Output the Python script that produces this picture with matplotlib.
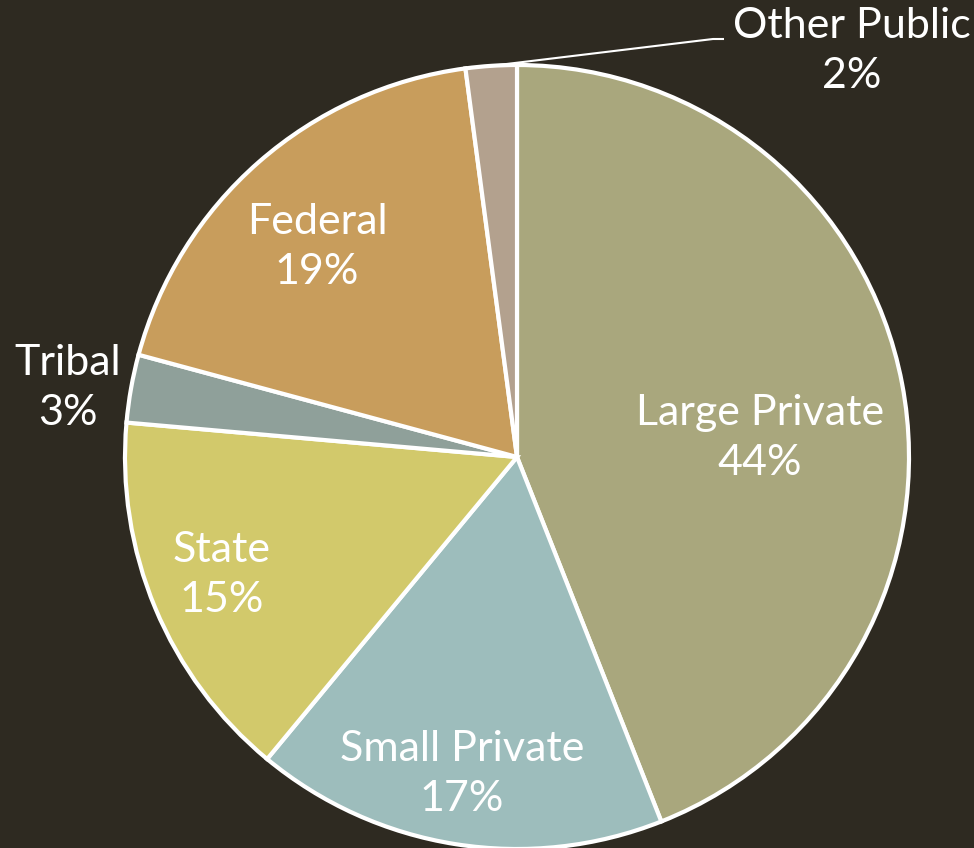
import matplotlib
matplotlib.use("Agg")
import matplotlib.pyplot as plt
import numpy as np

categories = ["Large Private", "Small Private", "State", "Tribal", "Federal", "Other Public"]
values = [44.0, 17.0, 15.4, 2.8, 18.7, 2.1]
pct_labels = ["44%", "17%", "15%", "3%", "19%", "2%"]
colors = ["#A9A77D", "#9DBDBC", "#D2C96B", "#8FA09A", "#C89D5C", "#B3A18E"]

BG = "#2E2A21"
W, H = 974, 848
fig = plt.figure(figsize=(W / 100, H / 100), dpi=100, facecolor=BG)
ax = fig.add_axes([0, 0, 1, 1])
ax.set_facecolor(BG)

cx, cy, R = 517, H - 457, 392
wedges, _ = ax.pie(values, colors=colors, startangle=90, counterclock=False,
                   center=(cx, cy), radius=R, frame=True,
                   wedgeprops=dict(edgecolor="white", linewidth=3))
ax.set_xlim(0, W)
ax.set_ylim(0, H)
ax.set_aspect("equal")
ax.axis("off")

# label positions (pixel coords, top-left origin) of label centers
label_pos = {
    "Large Private": (760, 438),
    "Small Private": (462, 774),
    "State": (222, 575),
    "Tribal": (68, 388),
    "Federal": (317, 247),
    "Other Public": (852, 51),
}
font = dict(family=["Lato", "DejaVu Sans"], fontsize=31, color="white",
            ha="center", va="center", linespacing=1.4)
for cat, pct in zip(categories, pct_labels):
    x, y = label_pos[cat]
    ax.text(x, H - y, f"{cat}\n{pct}", **font)

# leader line for Other Public
w = wedges[-1]
mid = np.deg2rad((w.theta1 + w.theta2) / 2)
p0 = (cx + R * np.cos(mid), cy + R * np.sin(mid))
ax.plot([p0[0], 713, 724], [p0[1], H - 39, H - 39], color="white", lw=1.5,
        solid_capstyle="butt")

fig.savefig("out.png", dpi=100, facecolor=BG)
